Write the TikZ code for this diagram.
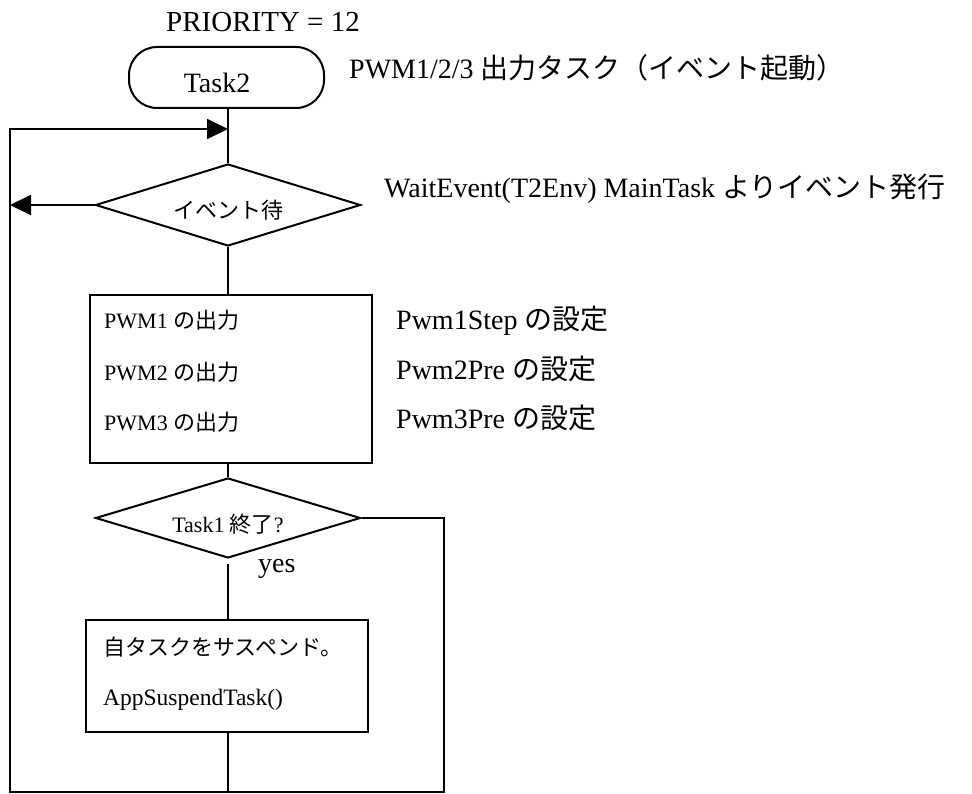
\documentclass[tikz,border=0pt]{standalone}
\usepackage{fontspec}
\setmainfont{Liberation Serif}
\newfontfamily\jp{Noto Sans CJK JP}
\usetikzlibrary{shapes.geometric,arrows.meta,calc}
\newcommand\FBig{\fontsize{28pt}{34pt}\selectfont}
\newcommand\FSml{\fontsize{22pt}{26pt}\selectfont}
\begin{document}
\begin{tikzpicture}[x=1pt,y=-1pt,
  shp/.style={draw,line width=2pt,inner sep=0pt},
  flow/.style={line width=1.8pt},
  arr/.style={flow,-{Triangle[length=21pt,width=20pt]}},
  txt/.style={inner sep=0pt,anchor=base west},
  dia/.style={shp,diamond,aspect=3.23,minimum width=265pt,text depth=0pt},
]
\useasboundingbox (0,0) rectangle (972,794);

% texts outside shapes
\node[txt] (prio) at (166,32) {\fontsize{29pt}{34pt}\selectfont PRIORITY = 12};
\node[txt] (desc) at (349,79) {\FBig PWM1/2/3 {\jp 出力タスク（イベント起動）}};
\node[txt] (wait) at (384,198) {\FBig WaitEvent(T2Env) MainTask {\jp よりイベント発行}};
\node[txt] (s1) at (396,330) {\FBig Pwm1Step {\jp の設定}};
\node[txt] (s2) at (396,379) {\FBig Pwm2Pre {\jp の設定}};
\node[txt] (s3) at (396,428) {\FBig Pwm3Pre {\jp の設定}};
\node[txt] (yes) at (258,572) {\FBig yes};

% shapes
\node[shp,rounded corners=28pt,minimum width=195pt,minimum height=61pt,
      text height=31pt,text depth=0pt] (task2) at (226.5,77.5) {\FBig Task2\hspace*{19pt}};
\node[dia,minimum height=82pt,text height=27pt] (d1) at (228,205) {\FSml\jp イベント待};
\node[shp,minimum width=282pt,minimum height=168pt] (box1) at (231,379) {};
\node[txt] (p1) at (104,329) {\FSml PWM1 {\jp の出力}};
\node[txt] (p2) at (104,381) {\FSml PWM2 {\jp の出力}};
\node[txt] (p3) at (104,430) {\FSml PWM3 {\jp の出力}};
\node[dia,minimum height=80pt,text height=28pt] (d2) at (228,518) {\FSml Task1 {\jp 終了}?};
\node[shp,minimum width=282pt,minimum height=112pt] (box2) at (227,676) {};
\node[txt] (q1) at (103,655) {\FSml\jp 自タスクをサスペンド。};
\node[txt] (q2) at (103,705) {\fontsize{23.5pt}{28pt}\selectfont AppSuspendTask()};

% loop coordinates
\coordinate (ltop) at (10,129);
\coordinate (lbot) at (10,792);
\coordinate (rbot) at (444,792);
\coordinate (join) at (d1.north |- ltop);

% connectors
\draw[flow] (d1.north |- task2.south) -- (d1.north);
\draw[flow] (d1.south) -- (d1.south |- box1.north);
\draw[flow] (d2.north |- box1.south) -- (d2.north);
\draw[flow] ([yshift=-5pt]d2.south) -- (d2.south |- box2.north);
\draw[flow] (d2.south |- box2.south) -- (d2.south |- rbot);
\draw[arr] (d2.east) -- (d2.east -| rbot) -- (rbot) -- (lbot) -- (ltop) -- (join);
\draw[arr] (d1.west) -- (d1.west -| ltop);
\end{tikzpicture}
\end{document}
